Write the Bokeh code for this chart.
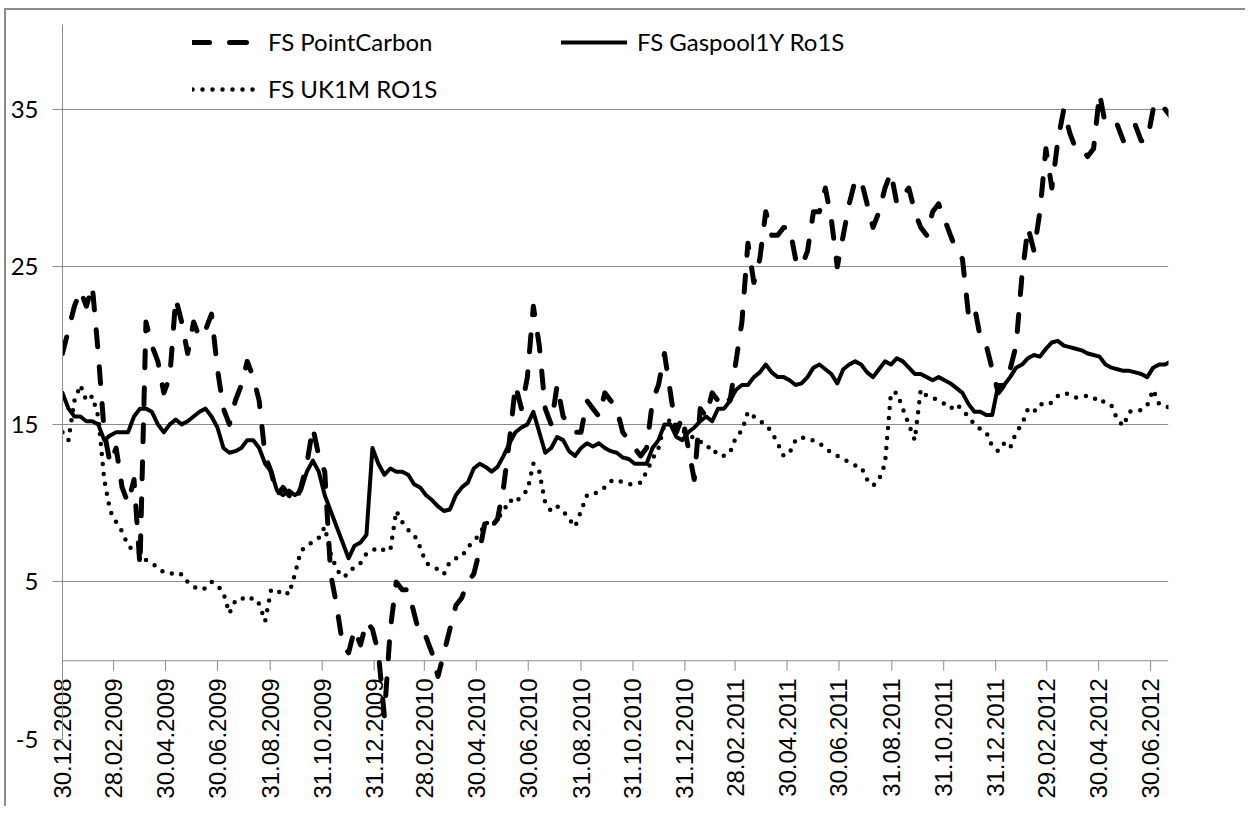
import pandas as pd
from math import pi
from bokeh.plotting import figure
from bokeh.models import (Range1d, FixedTicker, Span, Legend, LegendItem,
                          ColumnDataSource, DatetimeTickFormatter)
from bokeh.embed import file_html
from bokeh.resources import INLINE

# weekly observation dates
dates = pd.date_range("2008-12-30", periods=187, freq="7D")

point_carbon = [
    19.5, 21, 22.5, 23.5, 22.5, 23.8, 19.5, 14.5, 12.5, 13.5,
    11, 10, 11.5, 6, 21.5, 20, 19, 17, 18, 23,
    21.5, 19.5, 21.5, 20.5, 21, 22, 18.5, 16, 15, 16.5,
    17.5, 19, 18, 16.5, 13, 12, 10.5, 11, 10.5, 10,
    11, 12.5, 14.8, 13, 12, 5.5, 3.5, 1, 0.5, 2,
    1, 2.5, 2, 0.5, -3.5, 2, 5, 4.5, 4.5, 3,
    1.5, 1.5, 0.5, -1, 0.5, 2, 3.5, 4, 5, 5.5,
    7, 9, 8.5, 9, 11, 14, 17.5, 16, 18, 22.5,
    20, 16, 15, 17.5, 15.5, 15, 14.5, 14.5, 16.5, 16,
    15.5, 17, 16.5, 16, 14.5, 14, 13.5, 13, 13.5, 16.5,
    17.5, 19.5, 17, 14.5, 15.5, 13.5, 11.5, 16, 15.5, 17,
    16.5, 17, 16.5, 19, 21.5, 26.5, 24, 25.5, 28.5, 27,
    27, 27.5, 27.5, 25.5, 25, 26, 28.5, 28.5, 30, 28,
    25, 27, 29, 30.5, 30.5, 29, 27.5, 28.5, 30, 31,
    29, 29.5, 30, 28.5, 27.5, 27, 28.5, 29, 28, 27,
    26, 25.5, 22, 22.5, 20.5, 20, 18.5, 17, 17.5, 18.5,
    20, 24.5, 27.5, 26, 28.5, 32.5, 30, 33, 35, 33.5,
    32.5, 32.5, 32, 32.5, 36, 34, 34, 34, 33, 33.5,
    34, 33, 33, 35, 35.5, 35, 34.5,
]

gaspool = [
    17, 16, 15.5, 15.5, 15.2, 15.2, 15, 14, 14.3, 14.5,
    14.5, 14.5, 15.5, 16, 16, 15.8, 15, 14.5, 15, 15.3,
    15, 15.2, 15.5, 15.8, 16, 15.5, 14.8, 13.5, 13.2, 13.3,
    13.5, 14, 14, 13.5, 12.5, 12, 10.8, 10.5, 10.8, 10.5,
    10.8, 12, 12.7, 12, 10.5, 9.5, 8.5, 7.5, 6.5, 7.3,
    7.5, 8, 13.5, 12.5, 11.8, 12.2, 12, 12, 11.8, 11.2,
    11, 10.5, 10.2, 9.8, 9.5, 9.6, 10.5, 11, 11.3, 12.2,
    12.5, 12.3, 12, 12.3, 13, 13.8, 14.5, 14.8, 15, 15.8,
    14.5, 13.2, 13.5, 14.2, 14, 13.3, 13, 13.5, 13.8, 13.6,
    13.8, 13.5, 13.3, 13.2, 12.9, 12.8, 12.5, 12.5, 12.5, 13.5,
    14, 15, 15, 14.2, 14, 14.5, 14.8, 15.2, 15.5, 15.2,
    16, 16, 16.5, 17.2, 17.5, 17.5, 18, 18.3, 18.8, 18.3,
    18, 18, 17.8, 17.5, 17.6, 18, 18.6, 18.8, 18.5, 18.2,
    17.6, 18.5, 18.8, 19, 18.8, 18.3, 18, 18.5, 19, 18.8,
    19.2, 19, 18.6, 18.2, 18.2, 18, 17.8, 18, 17.8, 17.6,
    17.3, 17, 16.3, 15.8, 15.8, 15.6, 15.6, 17.5, 17.5, 18,
    18.6, 18.8, 19.2, 19.4, 19.3, 19.8, 20.2, 20.3, 20, 19.9,
    19.8, 19.7, 19.5, 19.4, 19.3, 18.8, 18.6, 18.5, 18.4, 18.4,
    18.3, 18.2, 18, 18.6, 18.8, 18.8, 19,
]

uk1m = [
    14.5, 14, 16.5, 17.5, 16.5, 16.8, 15.5, 11.5, 9.5, 8.8,
    8.2, 7.3, 7, 6.8, 6.4, 6.2, 5.9, 5.6, 5.6, 5.4,
    5.5, 5, 4.7, 4.5, 4.6, 5, 4.8, 4.3, 3, 3.8,
    4, 3.8, 4, 3.6, 2.5, 4.5, 4.3, 4.5, 4.2, 5.5,
    7, 7.2, 7.6, 7.8, 8.5, 6.8, 5.8, 5.3, 5.5, 6,
    6.2, 6.8, 7, 7.2, 7, 7, 9.5, 8.8, 8.3, 8,
    7.2, 6.2, 6, 5.8, 5.5, 6.3, 6.5, 6.6, 7.2, 7.6,
    8, 8.8, 8.5, 9, 9.5, 10.2, 10, 10.5, 10.8, 12.5,
    12, 10, 9.5, 9.8, 9.5, 9, 8.5, 9.5, 10.5, 10.5,
    10.8, 11, 11.4, 11.5, 11.3, 11.2, 11.2, 11.3, 12, 12.8,
    13.5, 15, 15.3, 14.8, 14.6, 14.4, 14.1, 13.9, 13.8, 13.2,
    13.3, 13, 13.2, 14.2, 14.6, 15.8, 15.5, 15.2, 15, 14.5,
    13.8, 13, 13.2, 14, 14.2, 14, 14, 13.8, 13.5, 13.2,
    13, 12.8, 12.6, 12.4, 12.3, 11.5, 11.1, 11.5, 12.5, 17,
    17, 16, 15, 14, 17.2, 16.8, 16.7, 16.5, 16.3, 16,
    16.3, 15.9, 15.5, 15, 14.7, 14.5, 13.6, 13.3, 13.8, 13.5,
    14.5, 15, 16, 15.8, 16.3, 16.2, 16.4, 16.8, 17, 16.9,
    16.7, 16.8, 16.8, 16.6, 16.7, 16.3, 16.2, 15.3, 14.9, 15.8,
    15.9, 15.9, 16.2, 17.2, 16.3, 16.2, 16,
]

tick_labels = [
    "30.12.2008", "28.02.2009", "30.04.2009", "30.06.2009", "31.08.2009",
    "31.10.2009", "31.12.2009", "28.02.2010", "30.04.2010", "30.06.2010",
    "31.08.2010", "31.10.2010", "31.12.2010", "28.02.2011", "30.04.2011",
    "30.06.2011", "31.08.2011", "31.10.2011", "31.12.2011", "29.02.2012",
    "30.04.2012", "30.06.2012",
]
y_ticks = [-5, 5, 15, 25, 35]
y_tick_labels = ["-5", "5", "15", "25", "35"]

series_names = ["FS PointCarbon", "FS Gaspool1Y Ro1S", "FS UK1M RO1S"]

GRID = "#8c8c8c"

src = ColumnDataSource(dict(date=dates, pc=point_carbon, gp=gaspool, uk=uk1m))
tick_dates = pd.to_datetime(tick_labels, format="%d.%m.%Y")
tick_ms = [int(t.value // 10**6) for t in tick_dates]
tick_src = ColumnDataSource(dict(x=tick_dates, y=[0] * len(tick_labels),
                                 y1=[-0.635] * len(tick_labels)))

p = figure(width=1241, height=798, x_axis_type="datetime",
           output_backend="svg", toolbar_location=None, title=None,
           x_range=Range1d(pd.Timestamp("2008-12-30"), pd.Timestamp("2012-07-21")),
           y_range=Range1d(-5, 40.38),
           min_border_left=56, min_border_right=79,
           min_border_top=14, min_border_bottom=69)
p.styles = {"margin-left": "4px", "margin-top": "8px",
            "border-left": "2px solid #8c8c8c", "border-top": "2px solid #8c8c8c"}
p.outline_line_color = None
p.background_fill_color = "white"
p.border_fill_color = "white"

# horizontal grid and value axis
p.xgrid.visible = False
p.ygrid.ticker = FixedTicker(ticks=y_ticks)
p.ygrid.grid_line_color = GRID
p.ygrid.grid_line_width = 1

p.yaxis.ticker = FixedTicker(ticks=y_ticks)
p.yaxis.major_label_overrides = dict(zip(y_ticks, y_tick_labels))
p.yaxis.axis_line_color = GRID
p.yaxis.major_tick_line_color = GRID
p.yaxis.major_tick_out = 10
p.yaxis.major_tick_in = 0
p.yaxis.minor_tick_line_color = None
p.yaxis.major_label_text_font = "Lato"
p.yaxis.major_label_text_font_size = "24px"
p.yaxis.major_label_text_color = "black"
p.yaxis.major_label_standoff = 14

# date axis: labels hang from the y = 0 line
fmt = "%d.%m.%Y"
p.xaxis.ticker = FixedTicker(ticks=tick_ms)
p.xaxis.formatter = DatetimeTickFormatter(
    milliseconds=fmt, seconds=fmt, minsec=fmt, minutes=fmt, hourmin=fmt,
    hours=fmt, days=fmt, months=fmt, years=fmt)
p.xaxis.major_label_orientation = pi / 2
p.xaxis.axis_line_color = None
p.xaxis.major_tick_line_color = None
p.xaxis.major_tick_out = 0
p.xaxis.major_tick_in = 0
p.xaxis.minor_tick_line_color = None
p.xaxis.major_label_standoff = -61
p.xaxis.major_label_text_font = "Liberation Sans"
p.xaxis.major_label_text_font_size = "24px"
p.xaxis.major_label_text_color = "black"

zero_line = Span(location=0, dimension="width", line_color=GRID, line_width=1, level="underlay")
p.add_layout(zero_line)
p.segment(x0="x", y0="y", x1="x", y1="y1", source=tick_src, line_color=GRID, line_width=1)

r_pc = p.line("date", "pc", source=src, line_color="black", line_width=5,
              line_dash="17 20", line_cap="round", line_join="round")
r_gp = p.line("date", "gp", source=src, line_color="black", line_width=4,
              line_join="round", line_cap="round")
r_uk = p.line("date", "uk", source=src, line_color="black", line_width=4.5,
              line_dash="0 10", line_cap="round", line_join="round")


def make_legend(name, renderer, loc):
    leg = Legend(items=[LegendItem(label=name, renderers=[renderer])], location=loc,
                 label_text_font="Lato", label_text_font_size="24px",
                 label_text_color="black", glyph_width=66, glyph_height=20,
                 label_standoff=10, padding=0, margin=0, spacing=0,
                 border_line_color=None, background_fill_alpha=0)
    p.add_layout(leg, "center")


make_legend(series_names[0], r_pc, (130, 683))
make_legend(series_names[1], r_gp, (499, 683))
make_legend(series_names[2], r_uk, (130, 636))

open("out.html", "w").write(file_html(p, INLINE))
